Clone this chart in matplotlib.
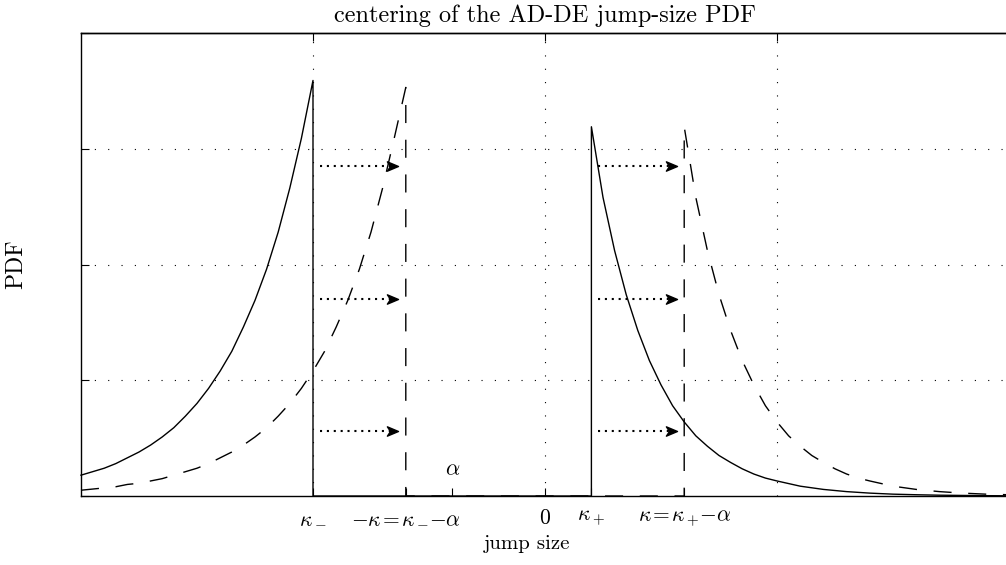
import matplotlib
matplotlib.use('Agg')
import matplotlib.pyplot as plt
from matplotlib.path import Path

plt.rcParams['mathtext.fontset'] = 'cm'
plt.rcParams['font.family'] = 'cmr10'
plt.rcParams['axes.unicode_minus'] = False
plt.rcParams['axes.formatter.use_mathtext'] = True

# valores
kappa_minus = -1.0
kappa_plus = 0.2
alpha = -0.4
shift = 0.4  # desplazamiento de centrado (-alpha)

# rama izquierda (solida)
left_x = [-2.0, -1.95, -1.9, -1.85, -1.8, -1.75, -1.7, -1.65, -1.6, -1.55,
          -1.5, -1.45, -1.4, -1.35, -1.3, -1.25, -1.2, -1.15, -1.1, -1.05,
          -1.0]
left_y = [0.18, 0.21, 0.24, 0.28, 0.33, 0.38, 0.44, 0.51, 0.59, 0.69,
          0.80, 0.93, 1.08, 1.25, 1.46, 1.69, 1.96, 2.28, 2.66, 3.09,
          3.59]

# rama derecha (solida)
right_x = [0.2, 0.25, 0.3, 0.35, 0.4, 0.45, 0.5, 0.55, 0.6, 0.65, 0.7,
           0.75, 0.8, 0.85, 0.9, 0.95, 1.0, 1.1, 1.2, 1.3, 1.4, 1.5, 1.6,
           1.7, 1.8, 1.9, 2.0]
right_y = [3.19, 2.58, 2.12, 1.74, 1.43, 1.17, 0.96, 0.78, 0.64, 0.52, 0.43,
           0.35, 0.29, 0.235, 0.19, 0.155, 0.13, 0.085, 0.057, 0.038, 0.025,
           0.016, 0.011, 0.007, 0.005, 0.003, 0.002]

# rama izquierda centrada (discontinua)
left_c_x = [-2.0, -1.95, -1.9, -1.85, -1.8, -1.75, -1.7, -1.65, -1.6, -1.55,
            -1.5, -1.45, -1.4, -1.35, -1.3, -1.25, -1.2, -1.15, -1.1, -1.05,
            -1.0, -0.95, -0.9, -0.85, -0.8, -0.75, -0.7, -0.65, -0.6]
left_c_y = [0.05, 0.06, 0.07, 0.08, 0.10, 0.11, 0.13, 0.15, 0.18, 0.21,
            0.24, 0.28, 0.33, 0.38, 0.44, 0.51, 0.59, 0.69, 0.80, 0.93,
            1.08, 1.25, 1.46, 1.69, 1.96, 2.28, 2.66, 3.09, 3.53]

# flechas punteadas
arrow_y = [2.85, 1.70, 0.56]
arrow_left = (-0.97, -0.634)
arrow_right = (0.228, 0.569)

tick_pos = [kappa_minus, kappa_minus + shift, alpha, 0.0, kappa_plus, kappa_plus + shift]
tick_labels = [r'$\kappa_-$',
               r'$-\kappa\hspace{-0.08}=\hspace{-0.08}\kappa_-\!{-}\alpha$',
               '', r'$0$', r'$\kappa_+$',
               r'$\kappa\hspace{-0.08}=\hspace{-0.08}\kappa_+\!{-}\alpha$']
grid_x = [-1, 0, 1]
grid_y = [1, 2, 3]

fig = plt.figure(figsize=(10.06, 5.65), dpi=100)
ax = fig.add_axes([0.0805, 0.1221, 0.9225, 0.8195])
ax.set_xlim(-2, 2)
ax.set_ylim(0, 4)

grid_style = dict(color='black', lw=0.8, linestyle=(0, (1, 11)), zorder=1)
for gx in grid_x:
    ax.axvline(gx, **grid_style)
for gy in grid_y:
    ax.axhline(gy, **grid_style)

# curva original (solida)
sx = left_x + [kappa_minus, kappa_plus] + right_x
sy = left_y + [0.0, 0.0] + right_y
ax.plot(sx, sy, color='black', lw=1.0, clip_on=False, zorder=3)

# curva centrada (discontinua)
rc_x = [x + shift for x in right_x]
dx = left_c_x + [kappa_minus + shift, kappa_plus + shift] + rc_x
dy = left_c_y + [0.0, 0.0] + right_y
ax.plot(dx, dy, color='black', lw=1.0, linestyle=(0, (13, 12)),
        clip_on=False, zorder=3)

head = Path([(0, 0), (-1, 0.42), (-0.72, 0), (-1, -0.42), (0, 0)],
            [Path.MOVETO, Path.LINETO, Path.LINETO, Path.LINETO, Path.CLOSEPOLY])
for y in arrow_y:
    for x0, x1 in (arrow_left, arrow_right):
        ax.plot([x0, x1 - 0.03], [y, y], color='black', lw=1.5,
                linestyle=(0, (1, 2.3)), zorder=4)
        ax.plot([x1], [y], marker=head, ms=16, color='black', zorder=5)

ax.text(alpha, 0.23, r'$\alpha$', ha='center', va='center', fontsize=16)

ax.set_xticks(tick_pos)
ax.set_xticklabels(tick_labels, fontsize=15.5)
ax.set_yticks([0, 1, 2, 3, 4])
ax.set_yticklabels([])
ax.tick_params(direction='in', length=6, width=0.8, pad=9)
ax.tick_params(axis='y', right=False)

top = ax.secondary_xaxis('top')
top.set_xticks(grid_x)
top.set_xticklabels([])
top.tick_params(direction='in', length=6, width=0.8)

for sp in ax.spines.values():
    sp.set_linewidth(1.0)
top.spines['top'].set_linewidth(1.0)

ax.set_title('centering of the AD-DE jump-size PDF', fontsize=17.5, pad=8)
ax.set_xlabel('jump size', fontsize=15)
ax.xaxis.set_label_coords(0.481, -0.085)
ax.set_ylabel('PDF', fontsize=17)
ax.yaxis.set_label_coords(-0.058, 0.5)

fig.savefig('out.png', dpi=100)
